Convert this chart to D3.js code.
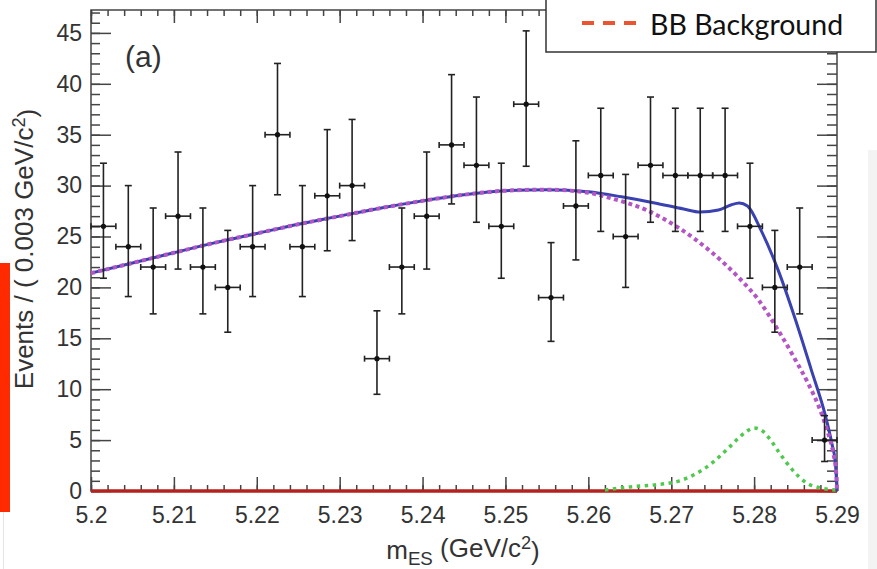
<html>
<head>
  <title>mES fit</title>
  <script src="https://cdn.jsdelivr.net/npm/d3@7"></script>
  <style>
    body { margin: 0; background: #fff; }
    .tick text {
      font-family: "Liberation Sans", Arial, sans-serif;
      font-size: 23px;
      fill: #333;
    }
    .tick line { stroke: #444; stroke-width: 1.5; }
    .axis-label {
      font-family: "Liberation Sans", Arial, sans-serif;
      font-size: 26px;
      fill: #333;
    }
  </style>
</head>
<body>
  <svg id="chart" width="877" height="569"></svg>
  <script>
    // data points (bin width 0.003 GeV/c2)
    const binCenters = [5.2015, 5.2045, 5.2075, 5.2105, 5.2135, 5.2165, 5.2195, 5.2225, 5.2255, 5.2285,
                        5.2315, 5.2345, 5.2375, 5.2405, 5.2435, 5.2465, 5.2495, 5.2525, 5.2555, 5.2585,
                        5.2615, 5.2645, 5.2675, 5.2705, 5.2735, 5.2765, 5.2795, 5.2825, 5.2855, 5.2885];
    const counts = [26, 24, 22, 27, 22, 20, 24, 35, 24, 29, 30, 13, 22, 27, 34, 32, 26, 38, 19, 28,
                    31, 25, 32, 31, 31, 31, 26, 20, 22, 5];
    const errLow = [20.9, 19.1, 17.4, 21.8, 17.4, 15.6, 19.1, 29.1, 19.1, 23.6, 24.6, 9.5, 17.4, 21.8, 28.2,
                    26.4, 20.9, 31.9, 14.7, 22.7, 25.5, 20.0, 26.4, 25.5, 25.5, 25.5, 20.9, 15.6, 17.4, 2.9];
    const errHigh = [32.2, 30.0, 27.8, 33.3, 27.8, 25.6, 30.0, 42.0, 30.0, 35.5, 36.5, 17.7, 27.8, 33.3, 40.9,
                     38.7, 32.2, 45.2, 24.4, 34.4, 37.6, 31.1, 38.7, 37.6, 37.6, 37.6, 32.2, 25.6, 27.8, 7.4];
    const binHalf = 0.0015;

    // total fit (blue)
    const fitX = [5.200, 5.205, 5.210, 5.215, 5.220, 5.225, 5.230, 5.235, 5.240, 5.245, 5.250, 5.255, 5.260,
                  5.264, 5.268, 5.2715, 5.2735, 5.2757, 5.2772, 5.2782, 5.2792, 5.2809, 5.2829, 5.2850,
                  5.2869, 5.2886, 5.2894, 5.2898, 5.2900];
    const fitY = [21.4, 22.4, 23.4, 24.4, 25.3, 26.2, 27.0, 27.8, 28.5, 29.1, 29.5, 29.6, 29.4,
                  28.9, 28.3, 27.7, 27.4, 27.6, 28.1, 28.3, 28.0, 25.5, 21.7, 16.8,
                  11.9, 7.4, 4.6, 2.8, 0];

    // continuum background (magenta dotted)
    const bkgX = [5.200, 5.205, 5.210, 5.215, 5.220, 5.225, 5.230, 5.235, 5.240, 5.245, 5.250, 5.255, 5.260,
                  5.263, 5.267, 5.2708, 5.2748, 5.2781, 5.2805, 5.2829, 5.2849, 5.2865, 5.2878, 5.2888,
                  5.2895, 5.2899, 5.2900];
    const bkgY = [21.4, 22.4, 23.4, 24.4, 25.3, 26.2, 27.0, 27.8, 28.5, 29.1, 29.5, 29.6, 29.3,
                  28.7, 27.6, 25.9, 23.5, 21.0, 18.8, 15.8, 13.0, 10.6, 8.3, 6.0,
                  3.9, 1.8, 0];

    // signal (green dotted)
    const sigX = [5.262, 5.265, 5.268, 5.271, 5.273, 5.275, 5.277, 5.278, 5.279, 5.280, 5.281, 5.282, 5.283,
                  5.2846, 5.2863, 5.288, 5.290];
    const sigY = [0.1, 0.4, 0.6, 1.0, 1.7, 2.8, 4.3, 5.1, 5.8, 6.2, 5.9, 5.0, 3.8, 2.1, 0.8, 0.3, 0.1];

    // BB background (red)
    const bbX = [5.200, 5.290];
    const bbY = [0, 0];

    const xTicks = [5.2, 5.21, 5.22, 5.23, 5.24, 5.25, 5.26, 5.27, 5.28, 5.29];
    const yTicks = [0, 5, 10, 15, 20, 25, 30, 35, 40, 45];

    const svg = d3.select("svg#chart");
    const plotLeft = 91, plotRight = 837, plotTop = 10, plotBottom = 491;

    const xScale = d3.scaleLinear().domain([5.2, 5.29]).range([plotLeft, plotRight]);
    const yScale = d3.scaleLinear().domain([0, 47.25]).range([plotBottom, plotTop]);

    // side decorations
    svg.append("rect").attr("x", 868).attr("y", 150).attr("width", 9).attr("height", 419).attr("fill", "#f3f3f3");
    svg.append("rect").attr("x", 3).attr("y", 512).attr("width", 1).attr("height", 57).attr("fill", "#e4e4e4");
    svg.append("rect").attr("x", 0).attr("y", 263).attr("width", 10).attr("height", 249).attr("fill", "#ff2a00");

    const xMinor = d3.range(5.2, 5.2901, 0.002);
    const yMinor = d3.range(0, 47.5, 1);
    const fmtX = d => String(+d.toFixed(2));

    function addAxis(axis, tx, ty) {
      const g = svg.append("g").attr("transform", `translate(${tx},${ty})`).call(axis);
      g.select(".domain").remove();
      return g;
    }

    // bottom
    addAxis(d3.axisBottom(xScale).tickValues(xMinor).tickSizeInner(-6).tickSizeOuter(0).tickFormat(""), 0, plotBottom);
    addAxis(d3.axisBottom(xScale).tickValues(xTicks).tickSizeInner(-14).tickSizeOuter(0).tickPadding(16).tickFormat(fmtX), 0, plotBottom);
    // top
    addAxis(d3.axisTop(xScale).tickValues(xMinor).tickSizeInner(-6).tickSizeOuter(0).tickFormat(""), 0, plotTop);
    addAxis(d3.axisTop(xScale).tickValues(xTicks).tickSizeInner(-13).tickSizeOuter(0).tickFormat(""), 0, plotTop);
    // left
    addAxis(d3.axisLeft(yScale).tickValues(yMinor).tickSizeInner(-9).tickSizeOuter(0).tickFormat(""), plotLeft, 0);
    addAxis(d3.axisLeft(yScale).tickValues(yTicks).tickSizeInner(-20).tickSizeOuter(0).tickPadding(9), plotLeft, 0);
    // right
    addAxis(d3.axisRight(yScale).tickValues(yMinor).tickSizeInner(-10).tickSizeOuter(0).tickFormat(""), plotRight, 0);
    addAxis(d3.axisRight(yScale).tickValues(yTicks).tickSizeInner(-20).tickSizeOuter(0).tickFormat(""), plotRight, 0);

    // frame
    svg.append("rect")
      .attr("x", plotLeft).attr("y", plotTop)
      .attr("width", plotRight - plotLeft).attr("height", plotBottom - plotTop)
      .attr("fill", "none").attr("stroke", "#444").attr("stroke-width", 1.5);

    const line = d3.line()
      .x(d => xScale(d[0]))
      .y(d => yScale(d[1]))
      .curve(d3.curveMonotoneX);

    // BB background line
    svg.append("path")
      .datum(d3.zip(bbX, bbY))
      .attr("d", line)
      .attr("fill", "none").attr("stroke", "#b3221e").attr("stroke-width", 3.5);

    // signal
    svg.append("path")
      .datum(d3.zip(sigX, sigY))
      .attr("d", line)
      .attr("fill", "none").attr("stroke", "#4ec94e").attr("stroke-width", 3.5)
      .attr("stroke-dasharray", "3.5 4.5");

    // total fit
    svg.append("path")
      .datum(d3.zip(fitX, fitY))
      .attr("d", line)
      .attr("fill", "none").attr("stroke", "#3a41b0").attr("stroke-width", 3);

    // continuum background
    svg.append("path")
      .datum(d3.zip(bkgX, bkgY))
      .attr("d", line)
      .attr("fill", "none").attr("stroke", "#b455c6").attr("stroke-width", 4)
      .attr("stroke-dasharray", "4 3.5");

    // data points
    const pts = svg.append("g").attr("stroke", "#222").attr("stroke-width", 1.6);
    binCenters.forEach((c, i) => {
      const cx = xScale(c), cy = yScale(counts[i]);
      const y0 = yScale(errLow[i]), y1 = yScale(errHigh[i]);
      const x0 = xScale(c - binHalf), x1 = xScale(c + binHalf);
      pts.append("line").attr("x1", cx).attr("x2", cx).attr("y1", y0).attr("y2", y1);
      pts.append("line").attr("x1", cx - 3.5).attr("x2", cx + 3.5).attr("y1", y0).attr("y2", y0);
      pts.append("line").attr("x1", cx - 3.5).attr("x2", cx + 3.5).attr("y1", y1).attr("y2", y1);
      pts.append("line").attr("x1", x0).attr("x2", x1).attr("y1", cy).attr("y2", cy);
      pts.append("line").attr("x1", x0).attr("x2", x0).attr("y1", cy - 3).attr("y2", cy + 3);
      pts.append("line").attr("x1", x1).attr("x2", x1).attr("y1", cy - 3).attr("y2", cy + 3);
      pts.append("circle").attr("cx", cx).attr("cy", cy).attr("r", 2.6).attr("fill", "#111").attr("stroke", "none");
    });

    // panel label
    svg.append("text")
      .attr("x", 125).attr("y", 67)
      .attr("font-family", "Liberation Sans, Arial, sans-serif")
      .attr("font-size", 30).attr("fill", "#333")
      .text("(a)");

    // axis labels
    const yl = svg.append("text")
      .attr("class", "axis-label")
      .attr("text-anchor", "middle")
      .attr("transform", "translate(33,249) rotate(-90)");
    yl.append("tspan").text("Events / ( 0.003 GeV/c");
    yl.append("tspan").attr("dy", "-0.42em").attr("font-size", "70%").text("2");
    yl.append("tspan").attr("dy", "0.42em").text(")");

    const xl = svg.append("text")
      .attr("class", "axis-label")
      .attr("text-anchor", "middle")
      .attr("x", 463).attr("y", 559);
    xl.append("tspan").text("m");
    xl.append("tspan").attr("dy", "0.3em").attr("font-size", "72%").text("ES");
    xl.append("tspan").attr("dy", "-0.3em").text(" (GeV/c");
    xl.append("tspan").attr("dy", "-0.42em").attr("font-size", "70%").text("2");
    xl.append("tspan").attr("dy", "0.42em").text(")");

    // legend
    const legend = svg.append("g");
    legend.append("rect")
      .attr("x", 546).attr("y", -2).attr("width", 330).attr("height", 54)
      .attr("fill", "#fff").attr("stroke", "#333").attr("stroke-width", 1.5);
    legend.append("line")
      .attr("x1", 582).attr("x2", 636).attr("y1", 23).attr("y2", 23)
      .attr("stroke", "#ea5430").attr("stroke-width", 4).attr("stroke-dasharray", "12 9");
    legend.append("text")
      .attr("x", 650).attr("y", 35)
      .attr("font-family", "Lato, 'Open Sans', sans-serif")
      .attr("font-size", 28.5).attr("fill", "#111")
      .text("BB Background");
  </script>
</body>
</html>
